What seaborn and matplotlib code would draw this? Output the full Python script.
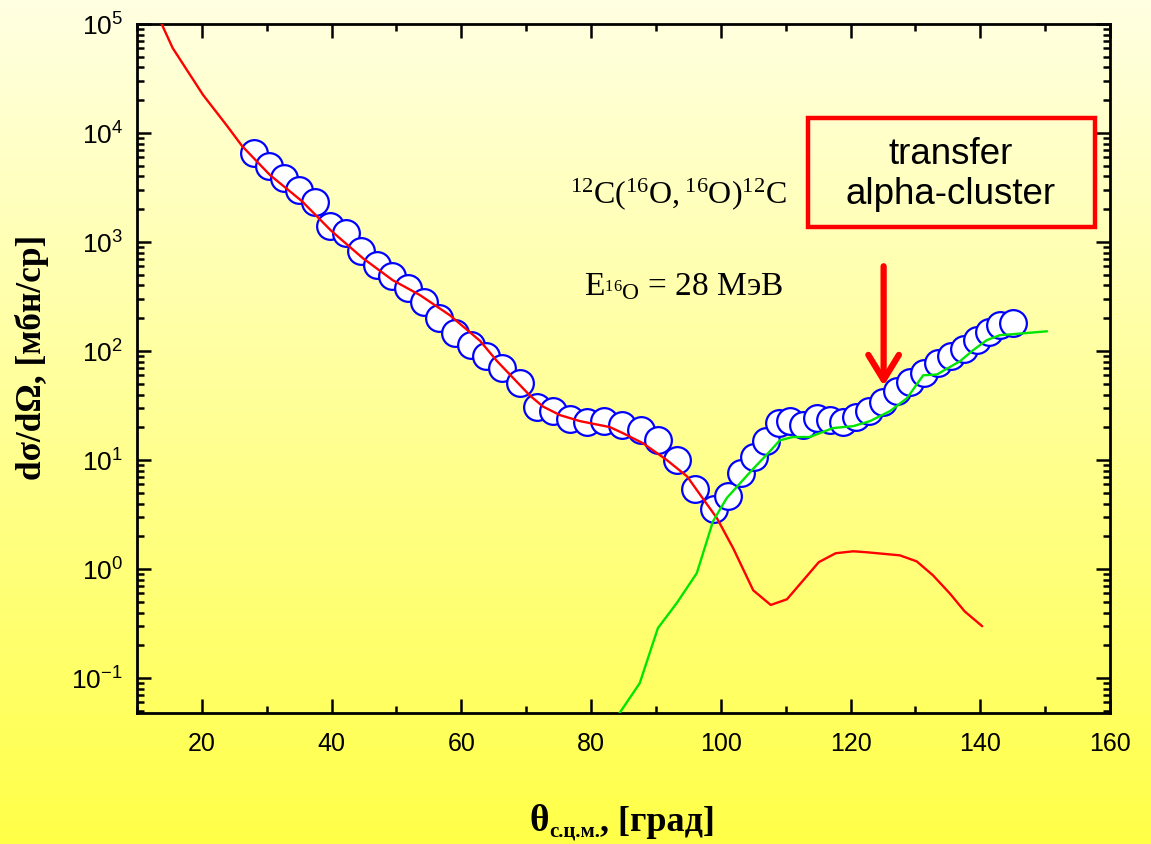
import numpy as np
import matplotlib
matplotlib.use("Agg")
import matplotlib.pyplot as plt
import seaborn as sns
import pandas as pd
from matplotlib.patches import Rectangle
from matplotlib.ticker import LogLocator, NullFormatter, MultipleLocator

# ---- data ----
data_x = [28.0, 30.3, 32.6, 35.0, 37.4, 39.7, 42.2, 44.5, 47.0, 49.3, 51.8, 54.2,
          56.5, 59.0, 61.5, 63.8, 66.3, 69.0, 71.7, 74.1, 76.7, 79.4, 82.0, 84.8,
          87.7, 90.3, 93.3, 96.0, 98.9, 101.1, 103.1, 105.1, 106.9, 109.0, 110.7,
          112.7, 114.8, 116.8, 118.8, 120.8, 122.8, 125.0, 127.2, 129.2, 131.3,
          133.5, 135.5, 137.5, 139.5, 141.3, 143.0, 145.0]
data_y = [6500, 4980, 3860, 3000, 2330, 1400, 1210, 830, 615, 490, 380, 282,
          201, 146, 113, 90, 70, 51, 31, 28, 23.8, 22.3, 22.8, 21,
          18.8, 15.4, 10.1, 5.4, 3.55, 4.68, 7.6, 10.7, 14.9, 21.8, 22.8,
          21, 24.3, 23.2, 22.3, 24.8, 28.2, 34, 43, 52, 63,
          78, 90, 104, 126, 149, 173, 181]

red_x = [13.8, 15.5, 17.7, 20.2, 23.9, 26.2, 30.5, 35.4, 40.0, 44.8, 49.4, 53.6,
         58.2, 62.9, 65.5, 70.6, 72.6, 75.2, 78.3, 82.9, 84.9, 88.0, 91.7, 94.8,
         97.2, 99.4, 101.9, 105.0, 107.7, 110.2, 112.7, 115.1, 117.7, 120.4,
         122.5, 127.6, 130.2, 132.7, 135.3, 137.6, 140.3]
red_y = [1e5, 60200, 37800, 22300, 11600, 7600, 4120, 2380, 1260, 713, 448, 327,
         214, 124, 81, 39, 31, 25.9, 22.8, 20.1, 17.7, 14.3, 10.0, 7.1,
         4.48, 2.94, 1.56, 0.64, 0.47, 0.53, 0.79, 1.16, 1.40, 1.46,
         1.43, 1.34, 1.18, 0.88, 0.60, 0.41, 0.30]

green_x = [83.5, 87.5, 90.3, 93.2, 96.3, 98.8, 100.9, 104.8, 107.3, 109.1, 111.1,
           113.7, 117.3, 120.4, 123.0, 126.1, 128.7, 131.2, 133.3, 136.9, 138.9,
           141.0, 143.0, 145.0, 150.3]
green_y = [0.04, 0.090, 0.288, 0.488, 0.92, 2.75, 4.48, 8.1, 11.6, 15.2, 16.3,
           16.3, 19.7, 20.5, 22.8, 28.2, 37, 60, 61, 81, 102,
           126, 140, 143, 152]

x_ticks = [20, 40, 60, 80, 100, 120, 140, 160]
y_ticks = [0.1, 1, 10, 100, 1000, 10000, 100000]
y_tick_labels = [r'$\mathsf{10^{-1}}$', r'$\mathsf{10^{0}}$', r'$\mathsf{10^{1}}$',
                 r'$\mathsf{10^{2}}$', r'$\mathsf{10^{3}}$', r'$\mathsf{10^{4}}$',
                 r'$\mathsf{10^{5}}$']

df_pts = pd.DataFrame({"x": data_x, "y": data_y})
df_red = pd.DataFrame({"x": red_x, "y": red_y})
df_green = pd.DataFrame({"x": green_x, "y": green_y})

# ---- style ----
sns.set_style("ticks")
plt.rcParams['font.family'] = ['Liberation Sans', 'DejaVu Sans']
plt.rcParams['text.color'] = 'black'
plt.rcParams['xtick.color'] = 'black'
plt.rcParams['ytick.color'] = 'black'
plt.rcParams['xtick.labelcolor'] = 'black'
plt.rcParams['ytick.labelcolor'] = 'black'
plt.rcParams['axes.labelcolor'] = 'black'
plt.rcParams['mathtext.fontset'] = 'custom'
plt.rcParams['mathtext.rm'] = 'Liberation Serif'
plt.rcParams['mathtext.it'] = 'Liberation Serif:italic'
plt.rcParams['mathtext.bf'] = 'Liberation Serif:bold'
plt.rcParams['mathtext.sf'] = 'Liberation Sans'

W, H = 1151, 844
fig = plt.figure(figsize=(W / 100, H / 100), dpi=100)

# background gradient
bg = fig.add_axes([0, 0, 1, 1], zorder=-10)
t = np.linspace(0, 1, 256)[:, None]
top = np.array([255, 255, 226]) / 255.0
bot = np.array([255, 255, 72]) / 255.0
grad = (top[None, None, :] * (1 - t[:, :, None]) + bot[None, None, :] * t[:, :, None])
bg.imshow(grad, aspect='auto', extent=[0, 1, 0, 1], origin='upper')
bg.set_axis_off()

ax = fig.add_axes([137 / W, (H - 713) / H, (1110 - 137) / W, (713 - 24) / H])
ax.set_facecolor('none')

sns.scatterplot(data=df_pts, x="x", y="y", ax=ax, marker='o', s=370,
                facecolor='white', edgecolor='#0000FF', linewidth=1.6, zorder=3)
sns.lineplot(data=df_red, x="x", y="y", ax=ax, color='#FF0000', lw=1.7,
             sort=False, estimator=None, zorder=4)
sns.lineplot(data=df_green, x="x", y="y", ax=ax, color='#00E600', lw=1.7,
             sort=False, estimator=None, zorder=4)

ax.set_yscale('log')
ax.set_xlim(10, 160)
ax.set_ylim(0.048, 1e5)
ax.set_xticks(x_ticks)
ax.set_xticklabels([str(v) for v in x_ticks])
ax.xaxis.set_minor_locator(MultipleLocator(10))
ax.set_yticks(y_ticks)
ax.set_yticklabels(y_tick_labels)
ax.yaxis.set_minor_locator(LogLocator(base=10, subs=np.arange(2, 10), numticks=20))
ax.yaxis.set_minor_formatter(NullFormatter())
ax.set_xlabel('')
ax.set_ylabel('')

for s in ax.spines.values():
    s.set_linewidth(2)
    s.set_color('black')
    s.set_visible(True)
ax.tick_params(which='both', direction='in', top=True, right=True, color='black')
ax.tick_params(which='major', length=10, width=1.8)
ax.tick_params(which='minor', length=5, width=1.8)
ax.tick_params(axis='x', which='major', labelsize=18, pad=14)
ax.tick_params(axis='y', which='major', labelsize=19, pad=10)
for lab in ax.get_yticklabels():
    lab.set_verticalalignment('center_baseline')

# arrow
ax.annotate('', xy=(125.1, 48.0), xytext=(125.1, 600),
            arrowprops=dict(arrowstyle='->, head_length=0.9, head_width=0.55',
                            color='#FF0000', lw=4.5, mutation_scale=20,
                            shrinkA=0, shrinkB=0), zorder=6)

# texts
fig.text(678 / W, 1 - 203 / H, r'$\mathrm{{}^{12}C({}^{16}O,{}^{16}O){}^{12}C}$',
         ha='center', va='baseline', fontsize=23, family='Liberation Serif')
fig.text(684 / W, 1 - 295 / H, r'$\mathrm{E_{{}^{16}O}}$ = 28 МэВ',
         ha='center', va='baseline', fontsize=24, family='Liberation Serif')

fig.patches.append(Rectangle((808 / W, 1 - 227 / H), (1095 - 808) / W, (227 - 118) / H,
                             transform=fig.transFigure, fill=False,
                             edgecolor='#FF0000', lw=3.2, zorder=7))
fig.text(951 / W, 1 - 164 / H, 'transfer', ha='center', va='baseline',
         fontsize=26.5, family='Liberation Sans')
fig.text(951 / W, 1 - 204 / H, 'alpha-cluster', ha='center', va='baseline',
         fontsize=26.5, family='Liberation Sans')

# x label built from pieces: θ, subscript, rest
renderer = fig.canvas.get_renderer()
base_y = 831
pieces = [('θ', 27, 0), ('с.ц.м.', 15, 6), (', [град]', 26, 0)]
txts = []
widths = []
for s, fs, dy in pieces:
    tt = fig.text(0, 1 - (base_y + dy) / H, s, ha='left', va='baseline', fontsize=fs,
                  weight='bold', family='Liberation Serif')
    bb = tt.get_window_extent(renderer)
    txts.append(tt)
    widths.append(bb.width)
total = sum(widths)
x0 = 622 - total / 2
for tt, w in zip(txts, widths):
    tt.set_x(x0 / W)
    x0 += w

fig.text(32 / W, 1 - 357 / H, 'dσ/dΩ, [мбн/ср]', rotation=90, ha='center',
         va='center', fontsize=25.5, weight='bold', family='Liberation Serif')

fig.savefig('out.png', dpi=100)
